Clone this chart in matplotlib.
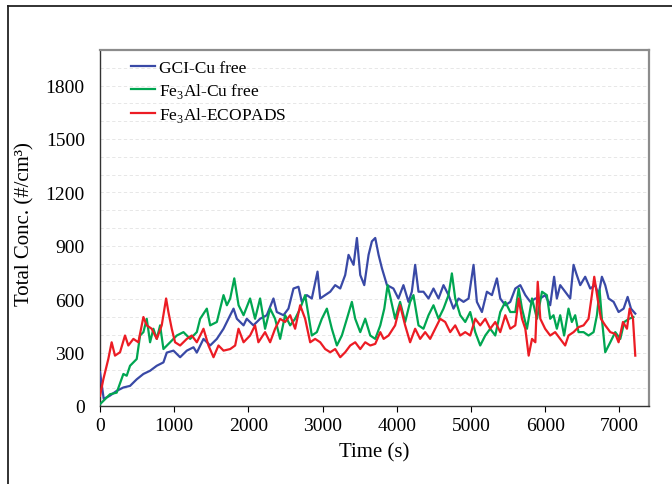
import matplotlib
matplotlib.use("Agg")
import matplotlib.pyplot as plt
from matplotlib.lines import Line2D

plt.rcParams['font.family'] = ['Liberation Serif', 'DejaVu Serif']
plt.rcParams['mathtext.fontset'] = 'custom'
plt.rcParams['mathtext.rm'] = 'Liberation Serif'

# Series (time in s, concentration in #/cm3)
gci_t = [0, 50, 130, 225, 315, 405, 495, 585, 675, 765, 855, 900, 990, 1080, 1170, 1260,
         1305, 1395, 1485, 1575, 1665, 1755, 1800, 1845, 1935, 1978, 2068, 2158, 2248,
         2338, 2383, 2473, 2540, 2608, 2675, 2720, 2788, 2855, 2932, 2968, 3035, 3103,
         3170, 3238, 3305, 3350, 3418, 3463, 3508, 3562, 3620, 3665, 3710, 3755, 3800,
         3868, 3955, 4022, 4090, 4158, 4203, 4248, 4293, 4360, 4428, 4495, 4563, 4630,
         4698, 4765, 4833, 4900, 4968, 5035, 5080, 5148, 5215, 5283, 5350, 5395, 5463,
         5530, 5598, 5665, 5733, 5800, 5868, 5935, 6000, 6068, 6121, 6158, 6203, 6270,
         6338, 6383, 6419, 6473, 6540, 6608, 6675, 6720, 6765, 6810, 6855, 6923, 6990,
         7058, 7112, 7157, 7215]
gci_v = [190, 40, 57, 85, 104, 113, 150, 180, 198, 226, 245, 300, 311, 274, 311, 330,
         300, 377, 340, 377, 434, 510, 547, 490, 453, 490, 453, 490, 510,
         604, 528, 510, 547, 660, 670, 585, 623, 604, 755, 604, 623, 642,
         679, 660, 736, 849, 793, 944, 736, 679, 849, 925, 944, 849, 774,
         679, 660, 604, 679, 585, 642, 793, 642, 642, 604, 660, 604, 679,
         623, 547, 604, 585, 604, 793, 585, 528, 642, 623, 717, 604, 566,
         585, 660, 679, 623, 585, 604, 604, 623, 566, 726, 604, 679, 642,
         604, 793, 745, 679, 726, 660, 679, 623, 726, 679, 604, 585, 528,
         547, 613, 547, 519]

fe3al_t = [0, 135, 225, 315, 360, 405, 495, 540, 585, 630, 675, 720, 765, 810, 855, 945,
           1035, 1125, 1215, 1305, 1350, 1440, 1485, 1575, 1665, 1710, 1755, 1810, 1868,
           1935, 2023, 2090, 2158, 2225, 2293, 2360, 2428, 2495, 2563, 2630, 2698, 2765,
           2810, 2855, 2923, 2990, 3058, 3125, 3193, 3260, 3328, 3395, 3440, 3508, 3575,
           3643, 3710, 3778, 3832, 3877, 3978, 4045, 4113, 4180, 4225, 4293, 4360, 4428,
           4495, 4563, 4630, 4698, 4743, 4788, 4855, 4923, 4990, 5058, 5125, 5193, 5260,
           5328, 5395, 5463, 5530, 5598, 5643, 5688, 5755, 5823, 5890, 5958, 6023, 6068,
           6113, 6158, 6203, 6256, 6315, 6360, 6405, 6450, 6518, 6585, 6653, 6698, 6734,
           6765, 6810, 6878, 6945, 7013, 7067, 7130, 7190]
fe3al_v = [10, 66, 75, 180, 170, 226, 264, 396, 415, 490, 358, 434, 377, 453, 320, 358,
           396, 415, 377, 415, 490, 547, 453, 472, 623, 566, 604, 717, 566,
           510, 604, 490, 604, 434, 547, 490, 377, 510, 453, 490, 547, 623,
           510, 396, 415, 490, 547, 434, 340, 396, 490, 585, 490, 415, 490,
           396, 377, 453, 547, 679, 490, 585, 472, 585, 623, 453, 434, 510,
           566, 490, 547, 623, 745, 604, 510, 472, 528, 415, 340, 396, 434,
           396, 528, 585, 528, 528, 660, 547, 434, 604, 490, 642, 623, 490,
           510, 434, 510, 396, 547, 472, 510, 415, 415, 396, 415, 510, 651,
           490, 302, 358, 415, 377, 472, 490, 500]

ecopads_t = [0, 45, 112, 157, 202, 270, 337, 382, 450, 517, 585, 630, 697, 765, 832, 891,
             922, 967, 1012, 1080, 1170, 1237, 1305, 1395, 1462, 1530, 1597, 1665, 1755,
             1822, 1867, 1935, 2023, 2090, 2135, 2225, 2293, 2360, 2428, 2495, 2563, 2630,
             2698, 2765, 2833, 2900, 2968, 3035, 3103, 3170, 3238, 3305, 3373, 3440, 3508,
             3575, 3643, 3710, 3778, 3823, 3890, 3978, 4045, 4113, 4180, 4248, 4315, 4383,
             4450, 4518, 4585, 4653, 4720, 4788, 4855, 4923, 4990, 5058, 5125, 5193, 5260,
             5328, 5395, 5463, 5530, 5598, 5643, 5688, 5733, 5778, 5823, 5868, 5900, 5935,
             6000, 6068, 6135, 6203, 6270, 6315, 6383, 6450, 6518, 6585, 6630, 6662, 6707,
             6752, 6810, 6878, 6945, 6990, 7049, 7103, 7139, 7184, 7215]
ecopads_v = [57, 150, 264, 358, 283, 302, 396, 340, 377, 358, 500, 453, 434, 377, 453, 604,
             528, 434, 358, 340, 377, 396, 358, 434, 340, 274, 340, 311, 320,
             340, 434, 358, 396, 453, 358, 415, 358, 434, 490, 472, 510, 434,
             566, 490, 358, 377, 358, 320, 302, 320, 274, 302, 340, 358, 320,
             358, 340, 349, 415, 377, 396, 453, 566, 453, 358, 434, 377, 415,
             377, 434, 490, 472, 415, 453, 396, 415, 396, 490, 453, 490, 434,
             472, 415, 510, 434, 453, 604, 490, 434, 283, 377, 358, 698, 490,
             434, 396, 415, 377, 340, 396, 415, 443, 453, 490, 623, 726, 604,
             490, 453, 415, 405, 358, 472, 434, 547, 490, 283]

labels = ['GCI-Cu free', r'Fe$_\mathregular{3}$Al-Cu free', r'Fe$_\mathregular{3}$Al-ECOPADS']
colors = ['#3949A6', '#00A651', '#EC1C24']

fig = plt.figure(figsize=(6.72, 4.85), dpi=100)
ax = fig.add_axes([100 / 672, 1 - 407 / 485, 549 / 672, 356 / 485])

ax.plot(gci_t, gci_v, color=colors[0], lw=1.6, label=labels[0], zorder=3)
ax.plot(fe3al_t, fe3al_v, color=colors[1], lw=1.6, label=labels[1], zorder=3)
ax.plot(ecopads_t, ecopads_v, color=colors[2], lw=1.6, label=labels[2], zorder=4)

ax.set_xlim(0, 7400)
ax.set_ylim(0, 2000)
ax.set_xticks(range(0, 7001, 1000))
ax.set_yticks(range(0, 1801, 300))
ax.set_yticks(range(0, 2001, 100), minor=True)
ax.grid(True, axis='y', which='both', linestyle=(0, (4, 3)), color='#e3e3e3', lw=0.6, zorder=0)
ax.tick_params(axis='y', which='both', length=0, pad=11, labelsize=14)
ax.tick_params(axis='x', length=4, width=0.8, direction='out', pad=4, labelsize=14)

for s in ['left', 'bottom']:
    ax.spines[s].set_color('#333333')
    ax.spines[s].set_linewidth(1.0)
for s in ['top', 'right']:
    ax.spines[s].set_color('#8c8c8c')
    ax.spines[s].set_linewidth(1.6)

ax.set_xlabel('Time (s)', fontsize=15, labelpad=6)
fig.text(25 / 672, 1 - 224 / 485, 'Total Conc. (#/cm³)', fontsize=15, rotation=90,
         ha='center', va='center')

ax.legend(loc='upper left', bbox_to_anchor=(0.056, 0.973), frameon=False, fontsize=12.5,
          handlelength=1.4, handletextpad=0.25, labelspacing=0.3,
          borderaxespad=0, borderpad=0)

# outer frame of the figure
fig.add_artist(Line2D([8 / 672, 8 / 672], [0, 1 - 7 / 485], transform=fig.transFigure,
                      color='#222222', lw=1.3))
fig.add_artist(Line2D([8 / 672, 1], [1 - 7 / 485, 1 - 7 / 485], transform=fig.transFigure,
                      color='#222222', lw=1.3))

fig.savefig('out.png', dpi=100)
